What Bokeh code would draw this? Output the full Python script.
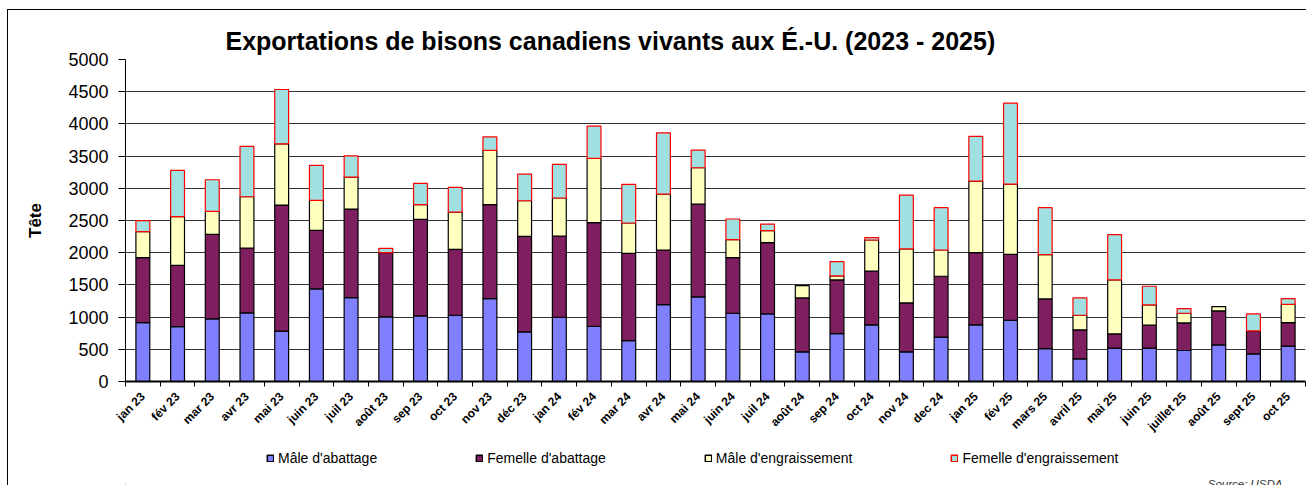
import math
import numpy as np
from bokeh.plotting import figure
from bokeh.layouts import column
from bokeh.models import (FixedTicker, Range1d, Legend, LegendItem, Label,
                          ColumnDataSource)
from bokeh.embed import file_html
from bokeh.resources import INLINE

months = ["jan 23", "fév 23", "mar 23", "avr 23", "mai 23", "juin 23", "juil 23",
          "août 23", "sep 23", "oct 23", "nov 23", "déc 23", "jan 24", "fév 24",
          "mar 24", "avr 24", "mai 24", "juin 24", "juil 24", "août 24", "sep 24",
          "oct 24", "nov 24", "dec 24", "jan 25", "fév 25", "mars 25", "avril 25",
          "mai 25", "juin 25", "juillet 25", "août 25", "sept 25", "oct 25"]

male_abattage = [915, 853, 972, 1065, 781, 1437, 1303, 1003, 1018, 1029, 1287, 770,
                 998, 858, 636, 1194, 1313, 1060, 1050, 460, 744, 879, 460, 688,
                 879, 951, 512, 352, 517, 517, 481, 569, 429, 548]
femelle_abattage = [1008, 951, 1313, 1008, 1959, 910, 1375, 998, 1500, 1023, 1458, 1484,
                    1261, 1608, 1354, 848, 1443, 863, 1106, 838, 833, 837, 760, 946,
                    1122, 1024, 770, 449, 222, 357, 429, 527, 357, 367]
male_engraissement = [404, 755, 357, 796, 951, 465, 496, 0, 227, 579, 843, 553,
                      590, 998, 471, 869, 563, 279, 186, 191, 62, 481, 838, 408,
                      1111, 1091, 688, 228, 838, 315, 150, 67, 0, 284]
femelle_engraissement = [170, 719, 491, 781, 843, 543, 331, 67, 331, 383, 212, 414,
                         522, 501, 600, 951, 274, 321, 103, 0, 222, 36, 837, 657,
                         693, 1256, 729, 269, 703, 290, 72, 0, 264, 88]

series_names = ["Mâle d'abattage", "Femelle d'abattage", "Mâle d'engraissement",
                "Femelle d'engraissement"]
fill_colors = ["#8080FF", "#7F1F5F", "#FFFFC0", "#A0E0E0"]
line_colors = ["#000000", "#000000", "#000000", "#FF0000"]

y_ticks = list(range(0, 5001, 500))

FONT = "Liberation Sans"
W = 1298
H1 = 435
H2 = 40
FRAME_W = W - 117 - 1

p = figure(width=W, height=H1, x_range=Range1d(-0.5, 33.5), y_range=Range1d(0, 5000),
           output_backend="svg", toolbar_location=None,
           min_border_left=117, min_border_right=1, min_border_top=49, min_border_bottom=64)
p.outline_line_color = None
p.background_fill_color = "white"
p.border_fill_color = "white"

# title
p.title.text = "Exportations de bisons canadiens vivants aux É.-U. (2023 - 2025)"
p.title.text_font = FONT
p.title.text_font_size = "25px"
p.title.text_font_style = "bold"
p.title.text_color = "black"
p.title.align = "left"
p.title.offset = 100
p.title.standoff = 9

# grid
p.xgrid.visible = False
p.ygrid.ticker = FixedTicker(ticks=y_ticks)
p.ygrid.grid_line_color = "#333333"
p.ygrid.grid_line_width = 1

# y axis
p.yaxis.ticker = FixedTicker(ticks=y_ticks)
p.yaxis.major_tick_in = 0
p.yaxis.major_tick_out = 7
p.yaxis.minor_tick_line_color = None
p.yaxis.major_label_standoff = 10
p.yaxis.major_label_text_font = FONT
p.yaxis.major_label_text_font_size = "18px"
p.yaxis.major_label_text_color = "black"
p.yaxis.axis_line_color = "black"
p.yaxis.major_tick_line_color = "black"
p.yaxis.axis_label = "Tête"
p.yaxis.axis_label_text_font = FONT
p.yaxis.axis_label_text_font_size = "17px"
p.yaxis.axis_label_text_font_style = "bold"
p.yaxis.axis_label_text_color = "black"
p.yaxis.axis_label_standoff = 20

# x axis
idx = list(range(len(months)))
p.xaxis.ticker = FixedTicker(ticks=idx, minor_ticks=[i - 0.5 for i in range(len(months) + 1)])
p.xaxis.major_label_overrides = {i: m for i, m in enumerate(months)}
p.xaxis.major_tick_in = 0
p.xaxis.major_tick_out = 0
p.xaxis.minor_tick_in = 0
p.xaxis.minor_tick_out = 5
p.xaxis.minor_tick_line_color = "black"
p.xaxis.axis_line_color = "black"
p.xaxis.axis_line_width = 2
p.xaxis.major_label_orientation = math.pi / 4
p.xaxis.major_label_standoff = 8
p.xaxis.major_label_text_font = FONT
p.xaxis.major_label_text_font_size = "12px"
p.xaxis.major_label_text_font_style = "bold"
p.xaxis.major_label_text_color = "black"

# stacked bars
data = [male_abattage, femelle_abattage, male_engraissement, femelle_engraissement]
bottom = np.zeros(len(months))
for vals, fc, lc in zip(data, fill_colors, line_colors):
    v = np.array(vals, dtype=float)
    top = bottom + v
    src = ColumnDataSource(dict(x=idx, bottom=bottom.copy(), top=top.copy(),
                                la=[1.0 if h > 0 else 0.0 for h in v]))
    p.vbar(x="x", bottom="bottom", top="top", width=0.4, source=src,
           fill_color=fc, line_color=lc, line_width=1.2, line_alpha="la")
    bottom = top

# legend + source strip (frame aligned with main frame)
p2 = figure(width=W, height=H2, x_range=Range1d(0, FRAME_W), y_range=Range1d(0, H2),
            output_backend="svg", toolbar_location=None,
            min_border_left=117, min_border_right=1, min_border_top=0, min_border_bottom=0)
p2.axis.visible = False
p2.grid.visible = False
p2.outline_line_color = None
p2.background_fill_color = "white"
p2.border_fill_color = "white"

dummy = []
for fc, lc in zip(fill_colors, line_colors):
    r = p2.vbar(x=[-5000], bottom=[-500], top=[-500], width=1,
                fill_color=fc, line_color=lc, line_width=1.5)
    dummy.append(r)

legend = Legend(items=[LegendItem(label=n, renderers=[r])
                       for n, r in zip(series_names, dummy)],
                orientation="horizontal", location=(141, 19))
legend.background_fill_alpha = 0
legend.border_line_color = None
legend.padding = 0
legend.margin = 0
legend.spacing = 98
legend.glyph_width = 8
legend.glyph_height = 8
legend.label_standoff = 4
legend.label_text_font = FONT
legend.label_text_font_size = "14px"
legend.label_text_color = "black"
p2.add_layout(legend, "center")

src_label = Label(x=1157, y=8, text="Source: USDA", text_align="right",
                  text_baseline="top", text_font=FONT, text_font_size="11.5px",
                  text_font_style="italic", text_color="#333333")
p2.add_layout(src_label)

layout = column(p, p2, spacing=0)
layout.styles = {"margin-left": "7px", "margin-top": "9px",
                 "border-left": "1px solid #000", "border-top": "1px solid #000"}
open("out.html", "w").write(file_html(layout, INLINE))
